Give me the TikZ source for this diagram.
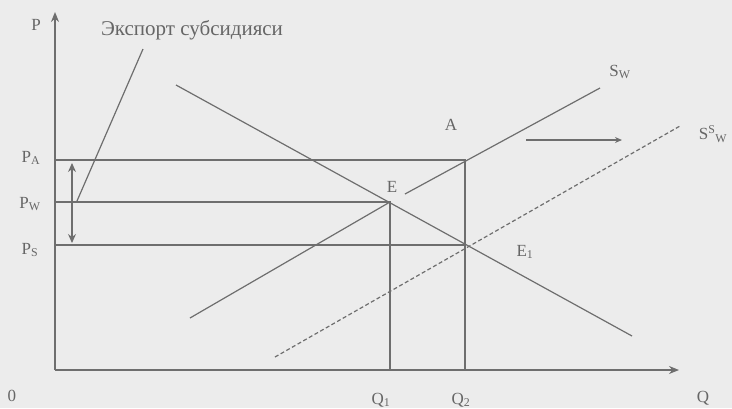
\documentclass[tikz,border=0pt]{standalone}
\usepackage{fontspec}
\setmainfont{Liberation Serif}
\usetikzlibrary{arrows.meta}
\definecolor{bg}{HTML}{ECECEC}
\definecolor{ink}{HTML}{6E6E6E}
\definecolor{txt}{HTML}{666666}
\tikzset{
  ln/.style={draw=ink, line width=1.2pt},
  dln/.style={draw=ink, line width=1.2pt, dash pattern=on 4pt off 2.5pt},
  lbl/.style={text=txt, font=\fontsize{17}{19}\selectfont, inner sep=0pt},
  ttl/.style={text=txt, font=\fontsize{21}{23}\selectfont, inner sep=0pt},
}
\begin{document}
\begin{tikzpicture}[x=1pt,y=-1pt]
\fill[bg] (0,0) rectangle (732,408);
\useasboundingbox (0,0) rectangle (732,408);
% key points
\coordinate (O) at (55,370);
\coordinate (Ytop) at (55,12);
\coordinate (Xend) at (679,370);
\coordinate (PA) at (55,160);
\coordinate (PW) at (55,202);
\coordinate (PS) at (55,245);
\coordinate (A) at (465,160);
\coordinate (E) at (390,202);
\coordinate (E1) at (465,245);
\coordinate (Q1) at (390,370);
\coordinate (Q2) at (465,370);
% axes
\draw[ln, -{Stealth[length=10pt,width=8pt]}] (O) -- (Ytop);
\draw[ln, -{Stealth[length=10pt,width=8pt]}] (O) -- (Xend);
% guide lines
\draw[ln] (PA) -- (A) -- (Q2);
\draw[ln] (PW) -- (E) -- (Q1);
\draw[ln] (PS) -- (E1);
% demand
\coordinate (D1) at (176,85);
\coordinate (D2) at (632,336);
\draw[ln] (D1) -- (D2);
% S_W with gap near E
\coordinate (S1) at (190,318);
\coordinate (S2) at (405,194);
\coordinate (S3) at (600,88);
\draw[ln] (S1) -- (E);
\draw[ln] (S2) -- (S3);
% S^S_W dashed
\coordinate (T1) at (275,357);
\coordinate (T2) at (680,126);
\draw[dln] (T1) -- (T2);
% export subsidy pointer
\coordinate (X1) at (77,201);
\coordinate (X2) at (143,49);
\draw[ln] (X1) -- (X2);
% double arrow
\coordinate (DA1) at (72,163);
\coordinate (DA2) at (72,243);
\draw[ln, {Stealth[length=9pt,width=8pt]}-{Stealth[length=9pt,width=8pt]}] (DA1) -- (DA2);
% shift arrow
\coordinate (H1) at (526,140);
\coordinate (H2) at (622,140);
\draw[ln, -{Stealth[length=7pt,width=6pt]}] (H1) -- (H2);
% labels
\node[ttl] (tt) at (192,30) {Экспорт субсидияси};
\node[lbl] (lP) at (36,25) {P};
\node[lbl] (lPA) at (31,158) {P\textsubscript{A}};
\node[lbl] (lPW) at (30,204) {P\textsubscript{W}};
\node[lbl] (lPS) at (30,250) {P\textsubscript{S}};
\node[lbl] (l0) at (12,396) {0};
\node[lbl] (lQ1) at (381,400) {Q\textsubscript{1}};
\node[lbl] (lQ2) at (461,400) {Q\textsubscript{2}};
\node[lbl] (lQ) at (703,398) {Q};
\node[lbl] (lA) at (451,125) {A};
\node[lbl] (lE) at (392,187) {E};
\node[lbl] (lE1) at (525,252) {E\textsubscript{1}};
\node[lbl] (lSW) at (620,72) {S\textsubscript{W}};
\node[lbl] (lSSW) at (713,134) {S\textsuperscript{S}\textsubscript{W}};
\end{tikzpicture}
\end{document}
